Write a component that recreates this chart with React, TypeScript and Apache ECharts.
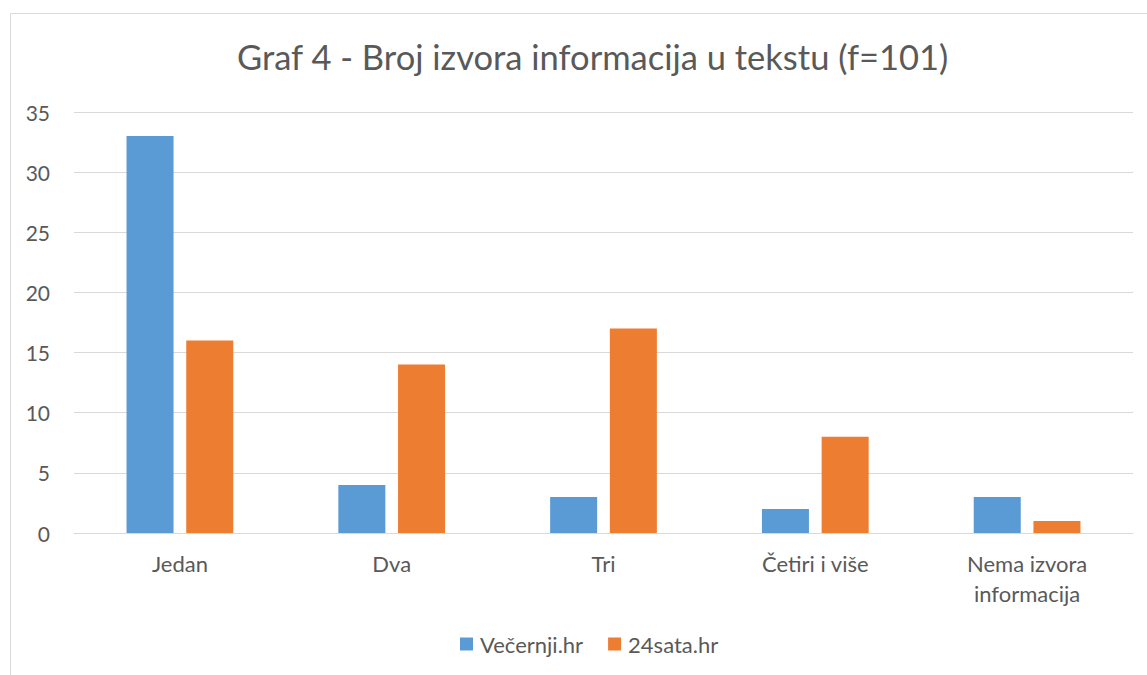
import React, { useEffect, useRef } from "react";
import * as echarts from "echarts";

const categories = ["Jedan", "Dva", "Tri", "Četiri i više", "Nema izvora\ninformacija"];
const vecernji = [33, 4, 3, 2, 3];
const sata24 = [16, 14, 17, 8, 1];
const seriesNames = ["Večernji.hr", "24sata.hr"];
const titleText = "Graf 4 - Broj izvora informacija u tekstu (f=101)";

const FONT = "Lato, 'Open Sans', sans-serif";
const TXT = "#595959";

export default function App() {
  const ref = useRef<HTMLDivElement>(null);
  useEffect(() => {
    if (!ref.current) return;
    const chart = echarts.init(ref.current, undefined, { renderer: "svg" });
    chart.setOption({
      animation: false,
      backgroundColor: "#ffffff",
      title: {
        text: titleText,
        left: 232,
        top: 34,
        textStyle: { fontFamily: FONT, fontSize: 34.5, fontWeight: "normal", color: TXT },
      },
      graphic: [
        {
          type: "rect",
          shape: { x: 10.5, y: 13.5, width: 2000, height: 2000 },
          style: { fill: "none", stroke: "#d9d9d9", lineWidth: 1 },
          silent: true,
        },
      ],
      legend: {
        bottom: 15,
        left: 455,
        itemWidth: 13,
        itemHeight: 13,
        itemGap: 25,
        icon: "rect",
        textStyle: { fontFamily: FONT, fontSize: 22, color: TXT, padding: [0, 0, 0, 2] },
        data: seriesNames,
      },
      grid: { left: 74, right: 14, top: 112, bottom: 142, containLabel: false },
      xAxis: {
        type: "category",
        data: categories,
        axisLine: { show: true, lineStyle: { color: "#d9d9d9", width: 1 } },
        axisTick: { show: false },
        axisLabel: {
          fontFamily: FONT,
          fontSize: 22,
          color: TXT,
          margin: 15,
          lineHeight: 30,
        },
      },
      yAxis: {
        type: "value",
        min: 0,
        max: 35,
        interval: 5,
        axisLine: { show: false },
        axisTick: { show: false },
        splitLine: { lineStyle: { color: "#d9d9d9", width: 1 } },
        axisLabel: { fontFamily: FONT, fontSize: 21, color: TXT, margin: 24 },
      },
      series: [
        {
          name: seriesNames[0],
          type: "bar",
          data: vecernji,
          barWidth: "22.2%",
          barGap: "27%",
          itemStyle: { color: "#5B9BD5" },
        },
        {
          name: seriesNames[1],
          type: "bar",
          data: sata24,
          barWidth: "22.2%",
          barGap: "27%",
          itemStyle: { color: "#ED7D31" },
        },
      ],
    });
    return () => chart.dispose();
  }, []);
  return (
    <div
      ref={ref}
      style={{ position: "absolute", left: 0, top: 0, width: 1147, height: 675 }}
    />
  );
}
